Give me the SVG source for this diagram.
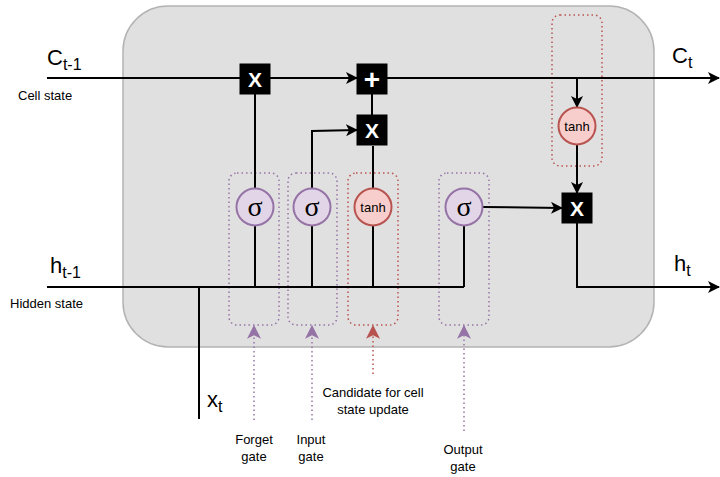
<svg xmlns="http://www.w3.org/2000/svg" width="720" height="477" viewBox="0 0 720 477">
<style>
text{font-family:"Liberation Sans",Arial,sans-serif;fill:#000}
.w{stroke:#000;stroke-width:2;fill:none}
.op{fill:#000;stroke:#000}
.opt{fill:#fff;font-size:21px;font-weight:bold;text-anchor:middle}
.sig{fill:#e1d5e7;stroke:#9673a6;stroke-width:2}
.th{fill:#f8cecc;stroke:#b85450;stroke-width:2}
.dp{fill:none;stroke:#9673a6;stroke-width:1.5;stroke-dasharray:1.5 3}
.dr{fill:none;stroke:#b85450;stroke-width:1.5;stroke-dasharray:1.5 3}
.lbl{font-size:13px;text-anchor:middle}
.big{font-size:22px}
.sub{font-size:16px}
.sgt{font-family:"Liberation Serif","DejaVu Serif",serif;font-size:28px;text-anchor:middle}
.tht{font-size:13px;text-anchor:middle}
</style>
<defs>
<marker id="a" viewBox="0 0 12 12" refX="11" refY="6" markerWidth="12" markerHeight="12" markerUnits="userSpaceOnUse" orient="auto"><path d="M0,0 L12,6 L0,12 L3,6 Z" fill="#000"/></marker>
<marker id="ap" viewBox="0 0 12 12" refX="11" refY="6" markerWidth="14" markerHeight="14" markerUnits="userSpaceOnUse" orient="auto"><path d="M0,0 L12,6 L0,12 L3,6 Z" fill="#9673a6"/></marker>
<marker id="ar" viewBox="0 0 12 12" refX="11" refY="6" markerWidth="14" markerHeight="14" markerUnits="userSpaceOnUse" orient="auto"><path d="M0,0 L12,6 L0,12 L3,6 Z" fill="#b85450"/></marker>
</defs>
<rect id="cell" x="123" y="6" width="531" height="341" rx="45" ry="45" fill="#e0e0e0" stroke="#b3b3b3" stroke-width="1.5"/>
<g id="gateboxes">
<rect id="forget-box" class="dp" x="229" y="173" width="50" height="152" rx="8"/>
<rect id="input-box" class="dp" x="288" y="173" width="49" height="152" rx="8"/>
<rect id="cand-box" class="dr" x="348" y="173" width="50" height="152" rx="8"/>
<rect id="output-box" class="dp" x="439" y="173" width="50" height="152" rx="8"/>
<rect id="tanh2-box" class="dr" x="552" y="15" width="50" height="151" rx="8"/>
</g>
<g id="connectors">
<path class="w" d="M47,78 L240,78"/>
<path class="w" d="M270,78 L357,78" marker-end="url(#a)"/>
<path class="w" d="M387,78 L719,78" marker-end="url(#a)"/>
<path class="w" d="M47,287 L464,287"/>
<path class="w" d="M199,287 L199,419"/>
<path class="w" d="M255,287 L255,226"/>
<path class="w" d="M312,287 L312,226"/>
<path class="w" d="M373,287 L373,226"/>
<path class="w" d="M464,287 L464,226"/>
<path class="w" d="M255,188 L255,94"/>
<path class="w" d="M312,188 L312,131 L357,130" marker-end="url(#a)"/>
<path class="w" d="M373,188 L373,146"/>
<path class="w" d="M372,115 L372,94"/>
<path class="w" d="M483,207 L562,208" marker-end="url(#a)"/>
<path class="w" d="M577,78 L577,107" marker-end="url(#a)"/>
<path class="w" d="M577,145 L577,193" marker-end="url(#a)"/>
<path class="w" d="M577,223 L577,287 L719,287" marker-end="url(#a)"/>
<path class="dp" d="M254,420 L254,326" marker-end="url(#ap)"/>
<path class="dp" d="M312,420 L312,326" marker-end="url(#ap)"/>
<path class="dr" d="M373,374 L373,326" marker-end="url(#ar)"/>
<path class="dp" d="M464,431 L464,326" marker-end="url(#ap)"/>
</g>
<g id="mul1"><rect class="op" x="240" y="64" width="30" height="30"/><text class="opt" x="255" y="87">X</text></g>
<g id="add"><rect class="op" x="357" y="64" width="30" height="30"/><text class="opt" x="372" y="89" style="font-size:28px">+</text></g>
<g id="mul2"><rect class="op" x="357" y="115" width="30" height="30"/><text class="opt" x="372" y="138">X</text></g>
<g id="mul3"><rect class="op" x="562" y="193" width="30" height="30"/><text class="opt" x="577" y="216">X</text></g>
<g id="sig-forget"><circle class="sig" cx="255" cy="207" r="18.5"/><text class="sgt" x="255" y="216">σ</text></g>
<g id="sig-input"><circle class="sig" cx="312" cy="207" r="18.5"/><text class="sgt" x="312" y="216">σ</text></g>
<g id="tanh-cand"><circle class="th" cx="373" cy="207" r="18.5"/><text class="tht" x="373" y="212">tanh</text></g>
<g id="sig-output"><circle class="sig" cx="464" cy="207" r="18.5"/><text class="sgt" x="464" y="216">σ</text></g>
<g id="tanh-out"><circle class="th" cx="577" cy="126" r="18.5"/><text class="tht" x="577" y="131">tanh</text></g>
<g id="labels">
<text x="47" y="65"><tspan class="big">C</tspan><tspan class="sub" dy="5">t-1</tspan></text>
<text x="18" y="100" font-size="13">Cell state</text>
<text x="50" y="273"><tspan class="big">h</tspan><tspan class="sub" dy="5">t-1</tspan></text>
<text x="10" y="308" font-size="13">Hidden state</text>
<text x="207" y="407"><tspan class="big">x</tspan><tspan class="sub" dy="5">t</tspan></text>
<text x="672" y="63"><tspan class="big">C</tspan><tspan class="sub" dy="5">t</tspan></text>
<text x="674" y="271"><tspan class="big">h</tspan><tspan class="sub" dy="5">t</tspan></text>
<text class="lbl" x="254" y="444">Forget</text><text class="lbl" x="254" y="461">gate</text>
<text class="lbl" x="311" y="444">Input</text><text class="lbl" x="311" y="461">gate</text>
<text class="lbl" x="373" y="397">Candidate for cell</text><text class="lbl" x="373" y="414">state update</text>
<text class="lbl" x="463" y="454">Output</text><text class="lbl" x="463" y="471">gate</text>
</g>
</svg>
